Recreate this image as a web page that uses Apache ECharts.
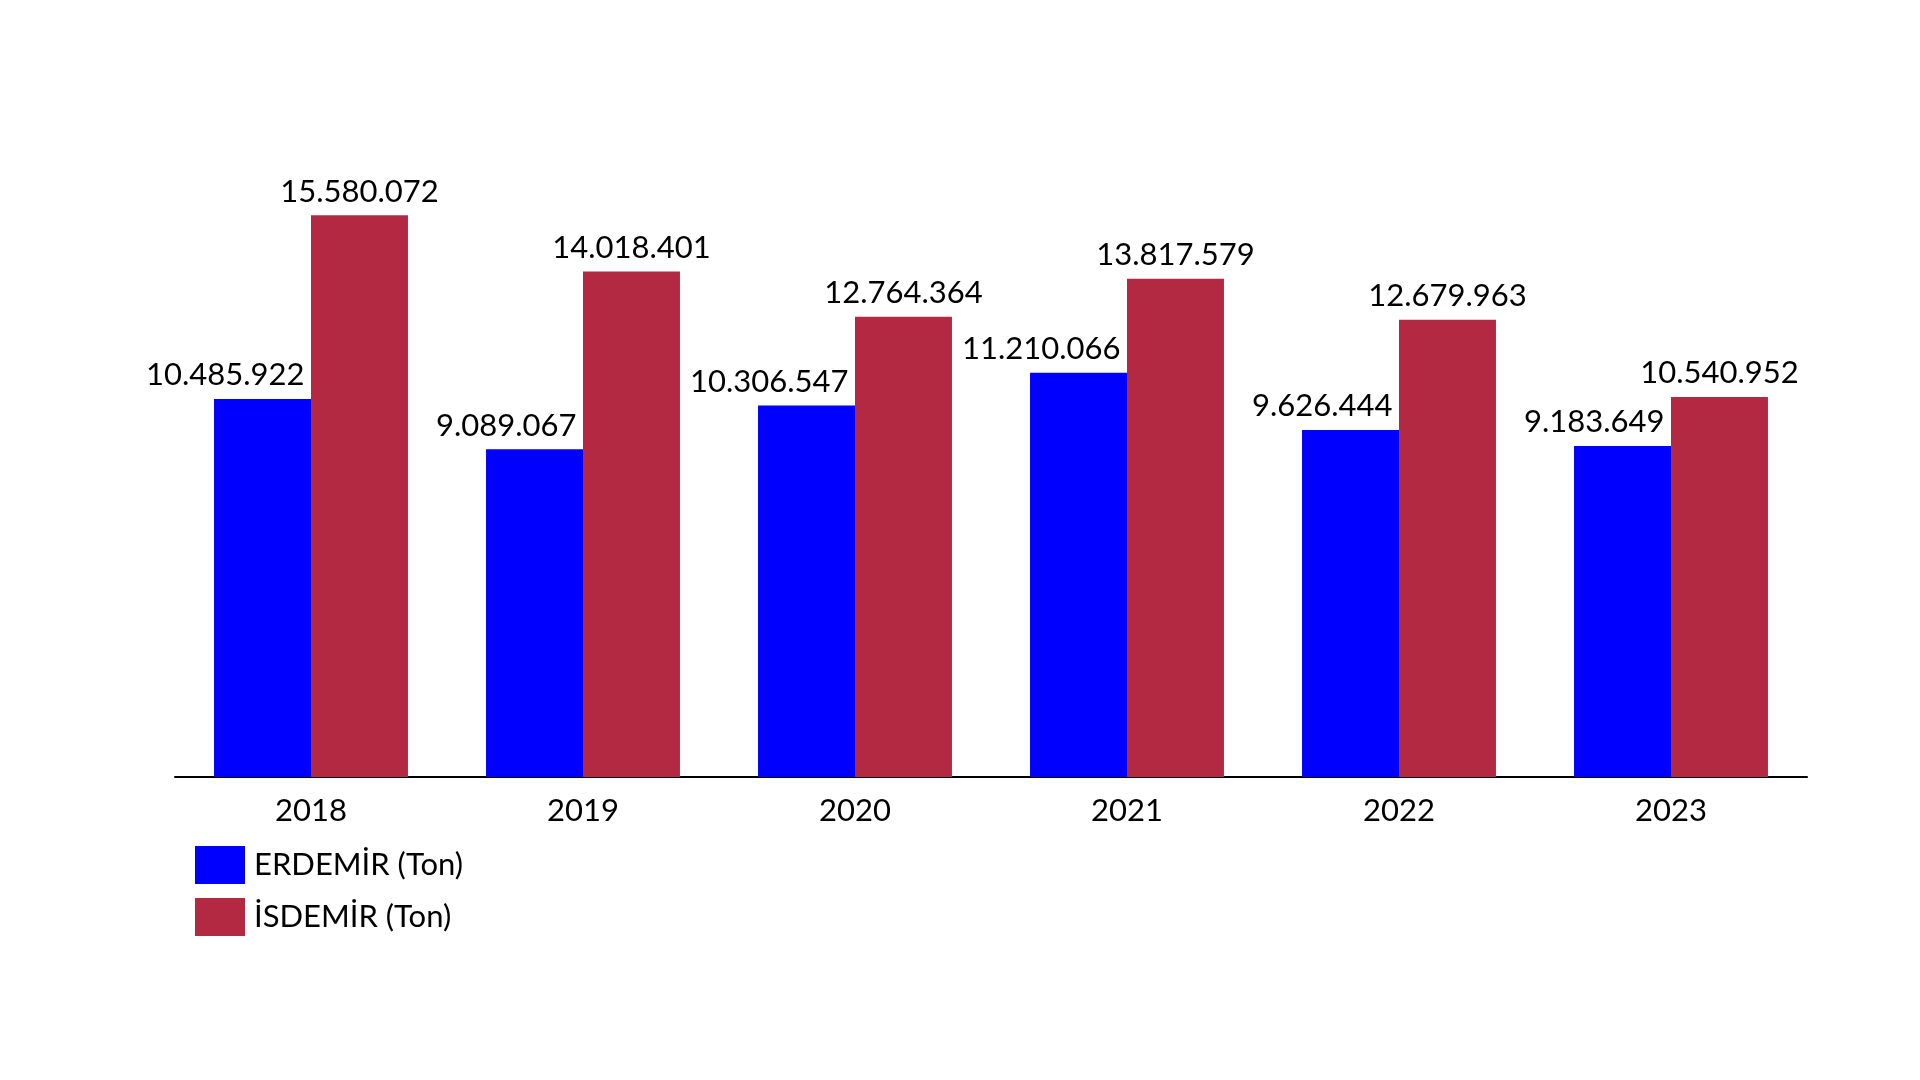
<!DOCTYPE html>
<html>
<head>
<meta charset="utf-8">
<script src="https://cdn.jsdelivr.net/npm/echarts@6/dist/echarts.min.js"></script>
<style>
html,body{margin:0;padding:0;background:#fff;}
#chart{width:1920px;height:1080px;}
</style>
</head>
<body>
<div id="chart"></div>
<script>
const years = ['2018','2019','2020','2021','2022','2023'];
const erdemir = [10485922, 9089067, 10306547, 11210066, 9626444, 9183649];
const isdemir = [15580072, 14018401, 12764364, 13817579, 12679963, 10540952];
const seriesNames = ['ERDEMİR (Ton)', 'İSDEMİR (Ton)'];

const FONT = 'Lato';
function fmt(v){ return String(v).replace(/\B(?=(\d{3})+(?!\d))/g, '.'); }

const chart = echarts.init(document.getElementById('chart'), null, {renderer:'canvas'});
chart.setOption({
  backgroundColor: '#ffffff',
  animation: false,
  grid: {left: 175, right: 113, top: 128, bottom: 303, containLabel: false},
  legend: {
    orient: 'vertical', left: 190, top: 841,
    itemWidth: 50, itemHeight: 38, itemGap: 14,
    icon: 'rect',
    textStyle: {fontFamily: FONT, fontSize: 31, color: '#000', padding: [0,0,0,4]},
    data: seriesNames
  },
  xAxis: {
    type: 'category', data: years,
    axisLine: {lineStyle: {color: '#000', width: 2}},
    axisTick: {show: false},
    axisLabel: {fontFamily: FONT, fontSize: 31, color: '#000', margin: 18}
  },
  yAxis: {
    type: 'value', min: 0, max: 18000000, show: false,
    splitLine: {show: false}
  },
  series: [
    {
      name: seriesNames[0], type: 'bar', data: erdemir,
      barGap: '0%', barCategoryGap: '28.7%',
      itemStyle: {color: '#0000FF'},
      label: {show: true, position: 'top', distance: 8, align: 'right', offset: [42, 0],
        fontFamily: FONT, fontSize: 31, color: '#000', formatter: p => fmt(p.value)}
    },
    {
      name: seriesNames[1], type: 'bar', data: isdemir,
      barGap: '0%', barCategoryGap: '28.7%',
      itemStyle: {color: '#B22941'},
      label: {show: true, position: 'top', distance: 8,
        fontFamily: FONT, fontSize: 31, color: '#000', formatter: p => fmt(p.value)}
    }
  ]
});
</script>
</body>
</html>
